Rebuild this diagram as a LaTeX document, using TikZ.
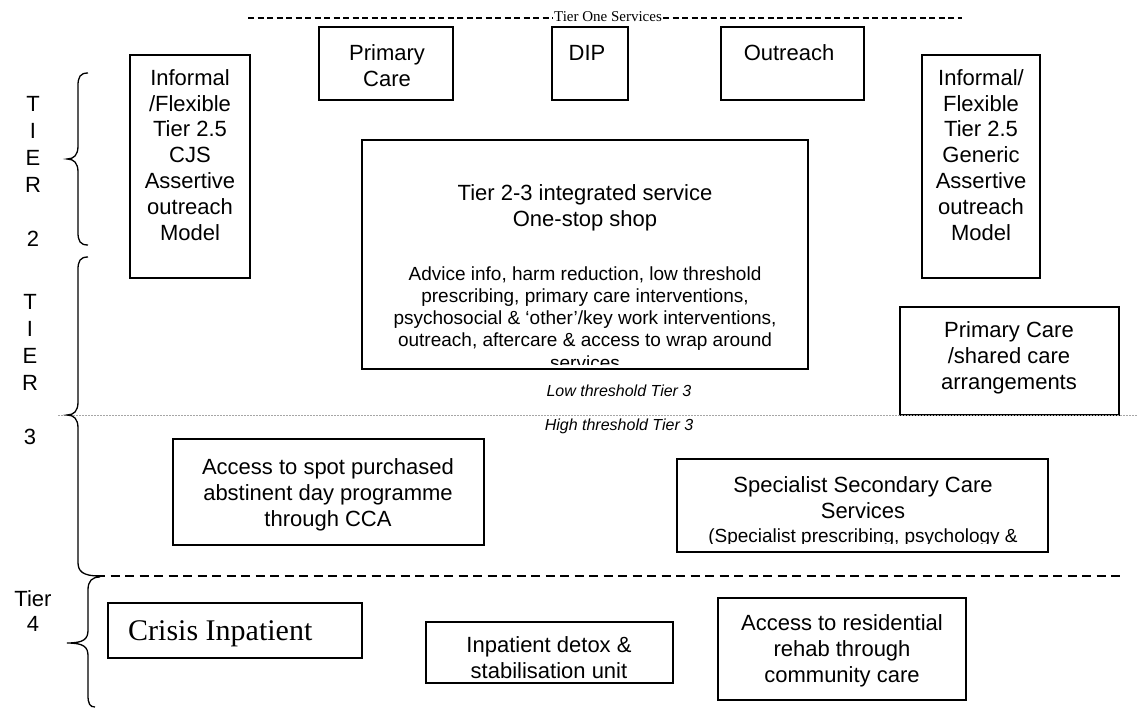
\documentclass[tikz,border=0pt]{standalone}
\usepackage{fontspec}
\setmainfont{Liberation Sans}
\newfontfamily\tnr{Liberation Serif}
\begin{document}
\begin{tikzpicture}[x=1pt,y=-1pt,
  box/.style={draw, line width=1.4pt, inner sep=0pt},
  big/.style={font=\fontsize{22}{25.8}\selectfont, align=center, inner sep=0pt, anchor=base},
  small/.style={font=\fontsize{19}{22.2}\selectfont, align=center, inner sep=0pt, anchor=base},
  lbl/.style={font=\fontsize{22}{27}\selectfont, align=center, inner sep=0pt, anchor=base},
  thr/.style={font=\fontsize{16}{18}\selectfont\itshape, inner sep=0pt},
  brc/.style={line width=1.3pt},
]
\useasboundingbox (0,0) rectangle (1137,709);
\newcommand\bx[5]{\node[box, minimum width={#4-#2}, minimum height={#5-#3}] (#1) at ({(#2+#4)/2},{(#3+#5)/2}) {};}

% Tier one header
\node[font=\tnr\fontsize{15}{17}\selectfont, inner sep=1pt] (t1) at (608,17) {Tier One Services};
\coordinate (t1l) at (248,18);
\coordinate (t1r) at (962,18);
\draw[line width=1.2pt, dash pattern=on 6pt off 3.5pt] (t1l) -- (t1.west |- t1l);
\draw[line width=1.2pt, dash pattern=on 6pt off 3.5pt] (t1.east |- t1r) -- (t1r);

% Boxes
\bx{prim}{319}{27}{453}{100}
\bx{dip}{552}{27}{628}{100}
\bx{outr}{721}{27}{864}{100}
\bx{infL}{130}{55}{250}{278}
\bx{infR}{922}{55}{1040}{278}
\bx{cent}{362}{140}{808}{369}
\bx{pcs}{900}{307}{1119}{415}
\bx{spot}{173}{439}{484}{545}
\bx{spec}{677}{459}{1048}{552}
\bx{crisis}{108}{603}{362}{658}
\bx{detox}{426}{622}{673}{683}
\bx{resid}{718}{598}{966}{700}

% Texts (anchor base = baseline of the last line)
\node[big] (primT) at (387,86) {Primary\\Care};
\node[big] (dipT) at (587,60) {DIP};
\node[big] (outrT) at (789,60) {Outreach};
\node[big] (infLT) at (190,240) {Informal\\/Flexible\\Tier 2.5\\CJS\\Assertive\\outreach\\Model};
\node[big] (infRT) at (981,240) {Informal/\\Flexible\\Tier 2.5\\Generic\\Assertive\\outreach\\Model};
\node[big] (centT) at (585,226) {Tier 2-3 integrated service\\One-stop shop};
\begin{scope}
\clip (362,140) rectangle (808,364);
\node[small] (centB) at (585,369) {Advice info, harm reduction, low threshold\\prescribing, primary care interventions,\\psychosocial \& ‘other’/key work interventions,\\outreach, aftercare \& access to wrap around\\services};
\end{scope}
\node[big] (pcsT) at (1009,389) {Primary Care\\/shared care\\arrangements};
\node[big] (spotT) at (328,526) {Access to spot purchased\\abstinent day programme\\through CCA};
\node[big] (specT) at (863,518) {Specialist Secondary Care\\Services};
\begin{scope}
\clip (677,459) rectangle (1048,543);
\node[small] (specB) at (863,542) {(Specialist prescribing, psychology \&};
\end{scope}
\node[font=\tnr\fontsize{30}{34}\selectfont, inner sep=0pt, anchor=base west] (crisisT) at (128,640) {Crisis Inpatient};
\node[big] (detoxT) at (549,678) {Inpatient detox \&\\stabilisation unit};
\node[big] (residT) at (842,682) {Access to residential\\rehab through\\community care};

\node[thr] (low) at (619,391) {Low threshold Tier 3};
\node[thr] (high) at (619,426) {High threshold Tier 3};

% Tier labels
\node[lbl] (l2) at (33,246) {T\\I\\E\\R\\[27pt]2};
\node[lbl] (l3) at (30,444) {T\\I\\E\\R\\[27pt]3};
\node[font=\fontsize{22}{25}\selectfont, align=center, inner sep=0pt, anchor=base] (l4) at (33,631) {Tier\\4};

% Separator lines
\coordinate (dotA) at (58,415);
\coordinate (dotB) at (1137,415);
\draw[gray!70, line width=1pt, dash pattern=on 1.5pt off 1.5pt] (dotA) -- (dotB);
\coordinate (dashA) at (96,576);
\coordinate (dashB) at (1120,576);
\draw[line width=1.3pt, dash pattern=on 9pt off 5.5pt] (dashA) -- (dashB);

% Braces
\draw[brc] (88,73) .. controls (80,73) and (78,77) .. (78,86) -- (78,146)
  .. controls (78,155) and (74,159) .. (67,159)
  .. controls (74,159) and (78,163) .. (78,172) -- (78,232)
  .. controls (78,241) and (80,245) .. (88,245);
\draw[brc] (88,257) .. controls (80,257) and (78,261) .. (78,270) -- (78,402)
  .. controls (78,411) and (74,415) .. (67,415)
  .. controls (74,415) and (78,419) .. (78,428) -- (78,562)
  .. controls (78,571) and (82,576) .. (100,576);
\draw[brc] (100,577) .. controls (92,577) and (88,581) .. (88,590) -- (88,630)
  .. controls (88,639) and (84,643) .. (67,643)
  .. controls (84,643) and (88,647) .. (88,656) -- (88,695)
  .. controls (88,704) and (90,707) .. (95,707);
\end{tikzpicture}
\end{document}
